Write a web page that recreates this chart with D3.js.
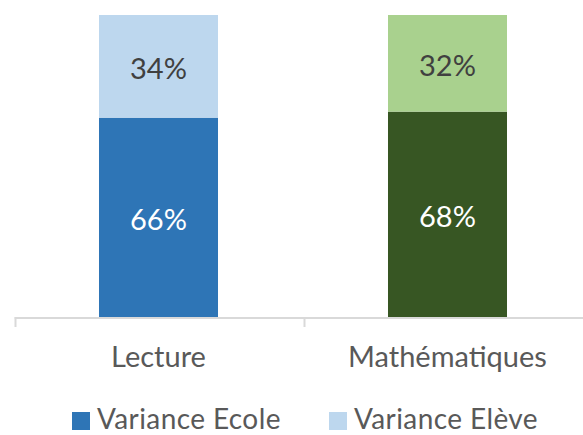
<!DOCTYPE html>
<html>
<head>
<meta charset="utf-8">
<script src="https://cdn.jsdelivr.net/npm/d3@7"></script>
<style>
  html, body { margin: 0; padding: 0; background: #fff; }
  svg { display: block; }
  text { font-family: Lato, "Open Sans", sans-serif; }
</style>
</head>
<body>
<div id="chart"></div>
<script>
// Data
const categories = ["Lecture", "Mathématiques"];
const seriesNames = ["Variance Ecole", "Variance Elève"];
const ecoleValues = [0.66, 0.68];
const eleveValues = [0.34, 0.32];
const ecoleColors = ["#2E75B6", "#375623"];
const eleveColors = ["#BDD7EE", "#A9D18E"];
const legendColors = ["#2E75B6", "#BDD7EE"];

const W = 583, H = 435;
const svg = d3.select("#chart").append("svg").attr("width", W).attr("height", H);

const p = 0.5882;
const x = d3.scaleBand().domain(categories).range([14, 592])
  .paddingInner(p).paddingOuter(p / 2);
const y = d3.scaleLinear().domain([0, 1]).range([317, 15]);

const rows = categories.map((c, i) => ({
  cat: c, ecole: ecoleValues[i], eleve: eleveValues[i],
  cE: ecoleColors[i], cL: eleveColors[i]
}));

const stacked = d3.stack().keys(["ecole", "eleve"])(rows);

stacked.forEach((layer, li) => {
  const g = svg.append("g");
  g.selectAll("rect").data(layer).enter().append("rect")
    .attr("x", d => x(d.data.cat))
    .attr("width", x.bandwidth())
    .attr("y", d => y(d[1]))
    .attr("height", d => y(d[0]) - y(d[1]))
    .attr("fill", d => li === 0 ? d.data.cE : d.data.cL);
  g.selectAll("text").data(layer).enter().append("text")
    .attr("x", d => x(d.data.cat) + x.bandwidth() / 2)
    .attr("y", d => (y(d[0]) + y(d[1])) / 2 + 1)
    .attr("text-anchor", "middle")
    .attr("dominant-baseline", "central")
    .attr("font-size", 29)
    .attr("fill", li === 0 ? "#FFFFFF" : "#404040")
    .text(d => Math.round((d[1] - d[0]) * 100) + "%");
});

// Axis line
const axisG = svg.append("g");
axisG.append("line")
  .attr("x1", 14.7).attr("x2", W).attr("y1", 318).attr("y2", 318)
  .attr("stroke", "#D9D9D9").attr("stroke-width", 2);
const bounds = categories.map(c => x(c) - x.step() * x.paddingOuter() + 1.5);
axisG.selectAll("line.tick").data(bounds).enter().append("line")
  .attr("class", "tick")
  .attr("x1", d => d).attr("x2", d => d)
  .attr("y1", 317).attr("y2", 327)
  .attr("stroke", "#D9D9D9").attr("stroke-width", 2);

// Category labels
axisG.selectAll("text.cat").data(categories).enter().append("text")
  .attr("class", "cat")
  .attr("x", d => x(d) + x.bandwidth() / 2)
  .attr("y", 367)
  .attr("text-anchor", "middle")
  .attr("font-size", 29)
  .attr("fill", "#595959")
  .text(d => d);

// Legend
const legendX = [72, 329];
const lg = svg.append("g");
seriesNames.forEach((s, i) => {
  lg.append("rect").attr("x", legendX[i]).attr("y", 412)
    .attr("width", 18).attr("height", 18).attr("fill", legendColors[i]);
  lg.append("text").attr("x", legendX[i] + 25).attr("y", 429)
    .attr("font-size", 28).attr("letter-spacing", 0.4)
    .attr("fill", "#595959").text(s);
});
</script>
</body>
</html>
